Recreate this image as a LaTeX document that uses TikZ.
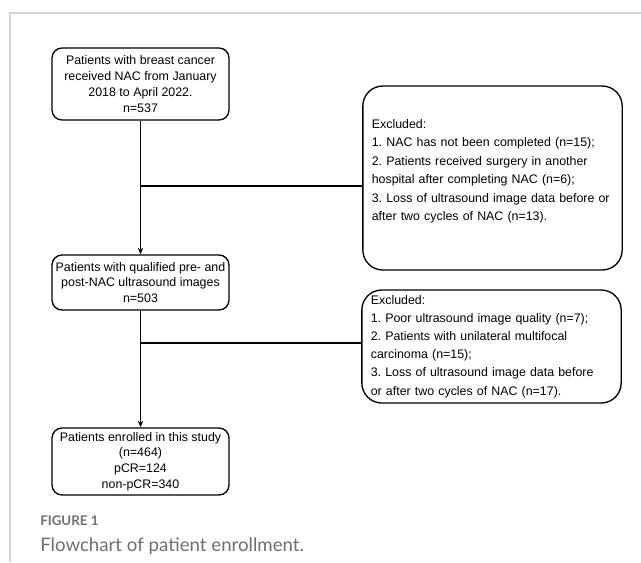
\documentclass[tikz,border=0pt]{standalone}
\usepackage{fontspec}
\setmainfont{Liberation Sans}
\newfontfamily\capfont{Lato}
\usepackage{tikz}
\usetikzlibrary{arrows.meta,positioning}
\definecolor{frameGray}{RGB}{212,212,212}
\definecolor{capGray}{RGB}{110,110,110}
\frenchspacing

\begin{document}
\begin{tikzpicture}[
    x=0.75pt, y=-0.75pt,
    every node/.style={font=\fontsize{9.3}{11.8}\selectfont},
    flowbox/.style={rectangle, rounded corners=7.5pt, draw=black, line width=1pt,
        minimum width=132.75pt, align=center, inner sep=2pt},
    exclbox/.style={rectangle, rounded corners=15pt, draw=black, line width=1pt,
        align=left, inner xsep=6.75pt, inner ysep=2pt, text width=181pt,
        font=\fontsize{9.3}{13.9}\selectfont},
    arrow/.style={-{Stealth[length=5pt,width=4pt]}, line width=1pt},
    branch/.style={line width=1pt},
    ]
    \useasboundingbox (0,0) rectangle (641,562);
    % page frame
    \draw[frameGray, line width=0.9pt] (10,562) -- (10,13) -- (641,13);
    % Main column
    \node[flowbox, minimum height=54pt]    (all)  at (140.5,84)
        {Patients with breast cancer\\received NAC from January\\2018 to April 2022.\\n=537};
    \node[flowbox, minimum height=41.25pt] (qual) at (140.5,282.5)
        {Patients with qualified pre- and\\post-NAC ultrasound images\\n=503};
    \node[flowbox, minimum height=50.25pt] (enr)  at (140.5,461.5)
        {Patients enrolled in this study\\(n=464)\\pCR=124\\non-pCR=340};
    % Excluded boxes
    \node[exclbox, minimum height=138pt] (ex1) at (492.5,178)
        {Excluded:\\1. NAC has not been completed (n=15);\\2. Patients received surgery in another\\hospital after completing NAC (n=6);\\3. Loss of ultrasound image data before or\\after two cycles of NAC (n=13).\rule[-12pt]{0pt}{0pt}};
    \node[exclbox, font=\fontsize{9.3}{13.6}\selectfont, minimum height=84.75pt] (ex2) at (491.5,346.5)
        {Excluded:\\1. Poor ultrasound image quality (n=7);\\2. Patients with unilateral multifocal\\carcinoma (n=15);\\3. Loss of ultrasound image data before\\or after two cycles of NAC (n=17).};
    % Split points
    \coordinate (cut1) at (140.5,186);
    \coordinate (cut2) at (140.5,343);
    % Arrows
    \draw[arrow] (all) -- (qual);
    \draw[arrow] (qual) -- (enr);
    \draw[branch] (cut1) -- (cut1 -| ex1.west);
    \draw[branch] (cut2) -- (cut2 -| ex2.west);
    % Caption
    \node[font=\capfont\bfseries\fontsize{10}{12}\selectfont, text=capGray, anchor=west, inner sep=0pt]
        (fig) at (40,521) {FIGURE 1};
    \node[font=\capfont\fontsize{14}{16}\selectfont, text=capGray, anchor=west, inner sep=0pt]
        (cap) at (40,546) {Flowchart of patient enrollment.};
\end{tikzpicture}
\end{document}
